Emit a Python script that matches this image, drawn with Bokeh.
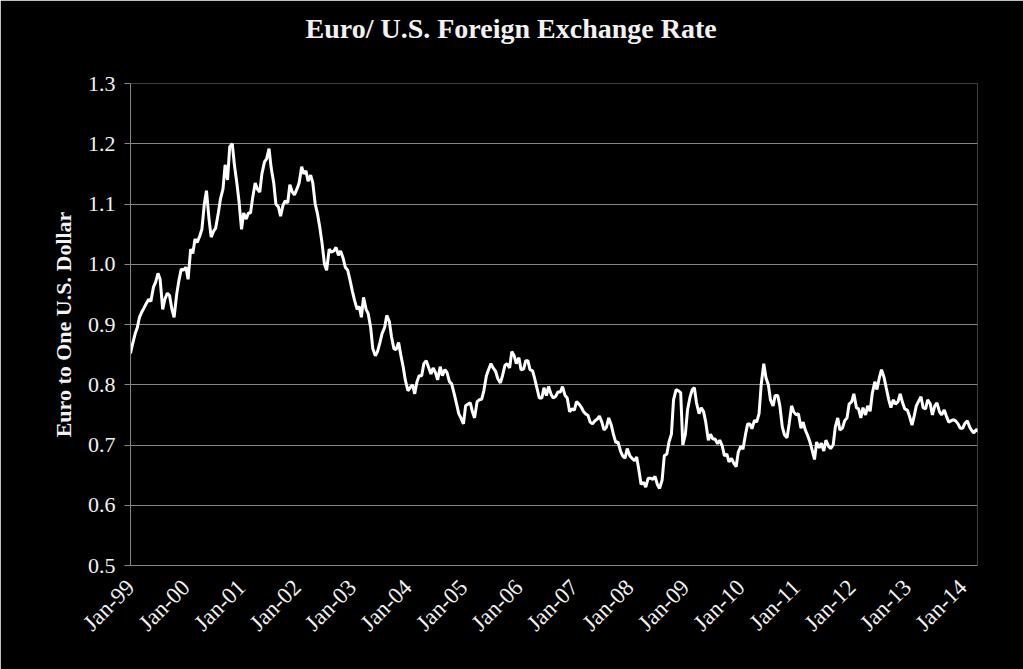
import math
import pandas as pd
from bokeh.plotting import figure
from bokeh.models import ColumnDataSource, FixedTicker, PrintfTickFormatter, Range1d, Title
from bokeh.embed import file_html
from bokeh.resources import INLINE

# Euro per one U.S. dollar, semi-monthly readings (1st and 15th of each month)
rate_1999 = [0.852, 0.868, 0.885, 0.895, 0.912, 0.920, 0.928, 0.935, 0.942, 0.938, 0.962, 0.970,
             0.985, 0.975, 0.925, 0.942, 0.952, 0.948, 0.925, 0.912, 0.950, 0.972, 0.992, 0.990]
rate_2000 = [0.995, 0.975, 1.025, 1.018, 1.042, 1.036, 1.047, 1.058, 1.100, 1.122, 1.075, 1.045,
             1.055, 1.060, 1.085, 1.108, 1.125, 1.165, 1.140, 1.195, 1.200, 1.165, 1.135, 1.105]
rate_2001 = [1.058, 1.085, 1.075, 1.085, 1.085, 1.110, 1.135, 1.125, 1.120, 1.150, 1.170, 1.175,
             1.192, 1.160, 1.135, 1.100, 1.095, 1.080, 1.098, 1.105, 1.102, 1.132, 1.120, 1.115]
rate_2002 = [1.125, 1.135, 1.162, 1.150, 1.155, 1.138, 1.148, 1.135, 1.100, 1.085, 1.060, 1.035,
             1.000, 0.990, 1.025, 1.020, 1.022, 1.028, 1.015, 1.022, 1.010, 0.995, 0.990, 0.975]
rate_2003 = [0.955, 0.940, 0.925, 0.930, 0.912, 0.945, 0.925, 0.918, 0.895, 0.860, 0.848, 0.855,
             0.870, 0.885, 0.895, 0.915, 0.905, 0.880, 0.860, 0.858, 0.870, 0.850, 0.830, 0.808]
rate_2004 = [0.790, 0.795, 0.800, 0.785, 0.805, 0.815, 0.815, 0.835, 0.840, 0.830, 0.818, 0.828,
             0.820, 0.808, 0.830, 0.815, 0.825, 0.820, 0.805, 0.802, 0.785, 0.770, 0.752, 0.745]
rate_2005 = [0.735, 0.765, 0.768, 0.770, 0.755, 0.745, 0.772, 0.775, 0.776, 0.790, 0.815, 0.825,
             0.835, 0.828, 0.822, 0.810, 0.803, 0.815, 0.832, 0.835, 0.828, 0.855, 0.848, 0.835]
rate_2006 = [0.845, 0.825, 0.826, 0.840, 0.840, 0.825, 0.823, 0.810, 0.793, 0.778, 0.778, 0.795,
             0.782, 0.797, 0.784, 0.778, 0.781, 0.788, 0.788, 0.797, 0.782, 0.778, 0.755, 0.760]
rate_2007 = [0.758, 0.772, 0.768, 0.763, 0.756, 0.752, 0.749, 0.738, 0.735, 0.740, 0.743, 0.748,
             0.738, 0.725, 0.730, 0.745, 0.733, 0.718, 0.704, 0.705, 0.690, 0.682, 0.678, 0.694]
rate_2008 = [0.682, 0.678, 0.674, 0.680, 0.658, 0.635, 0.638, 0.630, 0.645, 0.645, 0.643, 0.648,
             0.634, 0.628, 0.642, 0.682, 0.685, 0.705, 0.718, 0.775, 0.792, 0.790, 0.787, 0.700]
rate_2009 = [0.718, 0.758, 0.780, 0.792, 0.795, 0.770, 0.752, 0.762, 0.755, 0.738, 0.708, 0.718,
             0.710, 0.710, 0.702, 0.708, 0.698, 0.682, 0.685, 0.672, 0.678, 0.670, 0.664, 0.688]
rate_2010 = [0.698, 0.693, 0.718, 0.735, 0.735, 0.727, 0.741, 0.738, 0.752, 0.800, 0.835, 0.812,
             0.800, 0.775, 0.765, 0.782, 0.782, 0.765, 0.730, 0.717, 0.712, 0.735, 0.765, 0.755]
rate_2011 = [0.750, 0.752, 0.728, 0.738, 0.725, 0.717, 0.705, 0.692, 0.676, 0.705, 0.695, 0.703,
             0.690, 0.708, 0.698, 0.694, 0.700, 0.730, 0.745, 0.725, 0.728, 0.740, 0.745, 0.768]
rate_2012 = [0.772, 0.785, 0.762, 0.760, 0.745, 0.762, 0.750, 0.765, 0.756, 0.785, 0.805, 0.792,
             0.812, 0.825, 0.812, 0.795, 0.775, 0.762, 0.775, 0.768, 0.772, 0.785, 0.770, 0.760]
rate_2013 = [0.758, 0.748, 0.733, 0.748, 0.765, 0.772, 0.780, 0.762, 0.760, 0.775, 0.768, 0.750,
             0.765, 0.770, 0.755, 0.750, 0.758, 0.748, 0.738, 0.740, 0.742, 0.740, 0.735, 0.728]
rate_2014 = [0.728, 0.736, 0.740, 0.730, 0.724, 0.720, 0.726, 0.722]

x_tick_labels = ["Jan-99", "Jan-00", "Jan-01", "Jan-02", "Jan-03", "Jan-04", "Jan-05", "Jan-06",
                 "Jan-07", "Jan-08", "Jan-09", "Jan-10", "Jan-11", "Jan-12", "Jan-13", "Jan-14"]
x_tick_dates = ["1999-01-01", "2000-01-01", "2001-01-01", "2002-01-01", "2003-01-01", "2004-01-01",
                "2005-01-01", "2006-01-01", "2007-01-01", "2008-01-01", "2009-01-01", "2010-01-01",
                "2011-01-01", "2012-01-01", "2013-01-01", "2014-01-01"]
y_ticks = [0.5, 0.6, 0.7, 0.8, 0.9, 1.0, 1.1, 1.2, 1.3]
title_text = "Euro/ U.S. Foreign Exchange Rate"
y_title = "Euro to One U.S. Dollar"

rates = (rate_1999 + rate_2000 + rate_2001 + rate_2002 + rate_2003 + rate_2004 + rate_2005 +
         rate_2006 + rate_2007 + rate_2008 + rate_2009 + rate_2010 + rate_2011 + rate_2012 +
         rate_2013 + rate_2014)
dates = pd.date_range("1999-01-01", periods=len(rates), freq="SMS")

src = ColumnDataSource(data=dict(date=dates, rate=rates))


def ms(d):
    return float(pd.Timestamp(d).value // 10**6)


x_start = ms("1999-01-01")
x_end = ms("2014-04-08")

FONT = "Liberation Serif"
GRID = "#868686"
TXT = "#f2f2f2"

p = figure(width=1023, height=669, x_axis_type="datetime",
           output_backend="svg", toolbar_location=None,
           x_range=Range1d(x_start, x_end), y_range=Range1d(0.5, 1.3),
           background_fill_color="black", border_fill_color="black",
           outline_line_color=None,
           min_border_left=130, min_border_right=46,
           min_border_top=83, min_border_bottom=104)

# main title (outermost in the top panel)
p.title.text = title_text
p.title.align = "left"
p.title.offset = 175
p.title.standoff = 10
p.title.text_font = FONT
p.title.text_font_style = "bold"
p.title.text_font_size = "28px"
p.title.text_color = TXT

# blank spacer between the title and the plot frame
spacer = Title(text=" ", text_font_size="10px", standoff=22)
p.add_layout(spacer, "above")

p.line(x="date", y="rate", source=src, line_color="white", line_width=3)

# y axis
p.yaxis.ticker = FixedTicker(ticks=y_ticks)
p.yaxis.formatter = PrintfTickFormatter(format="%.1f")
p.yaxis.major_label_text_font = FONT
p.yaxis.major_label_text_font_size = "22px"
p.yaxis.major_label_text_color = TXT
p.yaxis.major_tick_out = 6
p.yaxis.major_tick_in = 0
p.yaxis.major_tick_line_color = GRID
p.yaxis.minor_tick_line_color = None
p.yaxis.axis_line_color = GRID
p.yaxis.major_label_standoff = 9
p.yaxis.axis_label = y_title
p.yaxis.axis_label_text_font = FONT
p.yaxis.axis_label_text_font_style = "bold"
p.yaxis.axis_label_text_font_size = "22px"
p.yaxis.axis_label_text_color = TXT
p.yaxis.axis_label_standoff = 9

# x axis
x_ticks = [ms(d) for d in x_tick_dates]
p.xaxis.ticker = FixedTicker(ticks=x_ticks)
p.xaxis.major_label_overrides = {t: lab for t, lab in zip(x_ticks, x_tick_labels)}
p.xaxis.major_label_orientation = math.pi / 4
p.xaxis.major_label_text_font = FONT
p.xaxis.major_label_text_font_size = "23px"
p.xaxis.major_label_text_color = TXT
p.xaxis.major_tick_line_color = None
p.xaxis.minor_tick_line_color = None
p.xaxis.axis_line_color = GRID
p.xaxis.major_label_standoff = 12

p.xgrid.grid_line_color = None
p.ygrid.ticker = FixedTicker(ticks=y_ticks)
p.ygrid.grid_line_color = GRID
p.ygrid.grid_line_width = 1

open("out.html", "w").write(file_html(p, INLINE))
